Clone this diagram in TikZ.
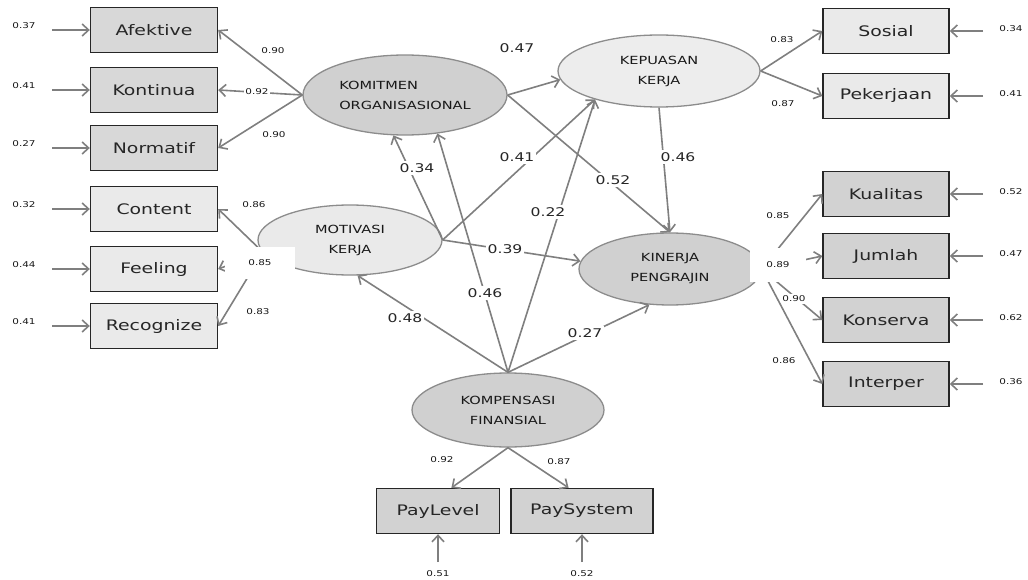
\documentclass[tikz,border=0pt]{standalone}
\usepackage{fontspec}
\newfontfamily\semfont{DejaVu Sans}[FakeStretch=1.3]
\usetikzlibrary{shapes.geometric,arrows.meta,positioning}
\definecolor{linkgray}{HTML}{7F7F7F}
\definecolor{boxmid}{HTML}{D8D8D8}
\definecolor{boxlight}{HTML}{EAEAEA}
\definecolor{boxdark}{HTML}{D2D2D2}
\definecolor{latdark}{HTML}{D0D0D0}
\definecolor{latlight}{HTML}{EDEDED}

\begin{document}
\begin{tikzpicture}[x=1pt, y=-1pt, font=\semfont,
  indicator/.style={rectangle, draw=black!85, line width=1.4pt, minimum height=45pt,
    font={\semfont\fontsize{14.5}{16}\selectfont}, text=black!85},
  latent/.style={ellipse, draw=black!45, line width=1.3pt, align=center, inner sep=0pt,
    font={\semfont\fontsize{11.2}{20}\selectfont}, text=black!90},
  link/.style={draw=linkgray, line width=1.6pt, -{Straight Barb[length=6.5pt,width=12pt]}},
  smallnum/.style={fill=white, inner sep=1.5pt, font={\semfont\fontsize{8}{9}\selectfont}, text=black!90},
  bignum/.style={fill=white, inner sep=2pt, font={\semfont\fontsize{12}{14}\selectfont}, text=black!85}]
  \useasboundingbox (0,0) rectangle (1028,580);

  % Latent variables
  \node[latent, fill=latdark, minimum width=204pt, minimum height=80pt, align=left] (komitmen) at (405,95) {KOMITMEN\\ORGANISASIONAL};
  \node[latent, fill=latlight, minimum width=202pt, minimum height=72pt] (kepuasan) at (659,71) {KEPUASAN\\KERJA};
  \node[latent, fill=boxlight, minimum width=184pt, minimum height=70pt] (motivasi) at (350,240) {MOTIVASI\\KERJA};
  \node[latent, fill=latdark, minimum width=182pt, minimum height=72pt] (kinerja) at (670,269) {KINERJA\\PENGRAJIN};
  \node[latent, fill=latdark, minimum width=192pt, minimum height=74pt] (kompensasi) at (508,410) {KOMPENSASI\\FINANSIAL};

  % Left indicators with error terms
  \foreach \name/\txt/\y/\err/\col in {afektive/Afektive/30/0.37/boxmid, kontinua/Kontinua/90/0.41/boxmid,
      normatif/Normatif/148/0.27/boxmid, content/Content/209/0.32/boxlight,
      feeling/Feeling/269/0.44/boxlight, recognize/Recognize/326/0.41/boxlight}
  {
    \node[indicator, fill=\col, minimum width=127pt] (\name) at (154,\y) {\txt};
    \coordinate (\name-e) at (52,\y);
    \draw[link] (\name-e) -- (\name);
    \node[smallnum] at (24,\y-4) {\err};
  }

  % Right indicators with error terms
  \foreach \name/\txt/\y/\err/\col in {sosial/Sosial/31/0.34/boxlight, pekerjaan/Pekerjaan/96/0.41/boxlight,
      kualitas/Kualitas/194/0.52/boxdark, jumlah/Jumlah/256/0.47/boxdark,
      konserva/Konserva/320/0.62/boxdark, interper/Interper/384/0.36/boxdark}
  {
    \node[indicator, fill=\col, minimum width=126pt] (\name) at (886,\y) {\txt};
    \coordinate (\name-e) at (983,\y);
    \draw[link] (\name-e) -- (\name);
    \node[smallnum] at (1011,\y-2) {\err};
  }

  % Bottom indicators with error terms
  \foreach \name/\txt/\x/\w/\err in {paylevel/PayLevel/438/123/0.51, paysystem/PaySystem/582/142/0.52}
  {
    \node[indicator, fill=boxdark, minimum width=\w pt] (\name) at (\x,511) {\txt};
    \coordinate (\name-e) at (\x,562);
    \draw[link] (\name-e) -- (\name);
    \node[smallnum] at (\x,574) {\err};
  }

  % Loadings
  \foreach \ind/\lab/\lx/\ly in {afektive/0.90/273/51, kontinua/0.92/257/92, normatif/0.90/274/135}
  {
    \draw[link] (komitmen.west) -- (\ind.east);
    \node[smallnum] at (\lx,\ly) {\lab};
  }
  \foreach \ind/\lab/\lx/\ly in {content/0.86/254/205, recognize/0.83/258/312}
  {
    \draw[link] (motivasi.188) -- (\ind.east);
    \node[smallnum] at (\lx,\ly) {\lab};
  }
  \draw[link] (motivasi.188) -- (feeling.east);
  \foreach \ind/\lab/\lx/\ly in {sosial/0.83/782/40, pekerjaan/0.87/783/104}
  {
    \draw[link] (kepuasan.east) -- (\ind.west);
    \node[smallnum] at (\lx,\ly) {\lab};
  }
  \foreach \ind/\lab/\lx/\ly in {kualitas/0.85/778/216, konserva/0.90/794/299, interper/0.86/784/361}
  {
    \draw[link] (kinerja.east) -- (\ind.west);
    \node[smallnum] at (\lx,\ly) {\lab};
  }
  \draw[link] (kinerja.east) -- (jumlah.west);
  \draw[link] (kompensasi.south) -- (paylevel.60);
  \draw[link] (kompensasi.south) -- (paysystem.120);
  \node[smallnum] at (442,460) {0.92};
  \node[smallnum] at (559,462) {0.87};

  % white label boxes over the ellipses
  \node[smallnum, minimum width=70pt, minimum height=32pt] at (260,263) {0.85};
  \node[smallnum, minimum width=56pt, minimum height=34pt] at (778,265) {0.89};

  % Structural paths
  \draw[link] (komitmen.east) -- (kepuasan.185);
  \draw[link] (komitmen.east) -- (kinerja.north);
  \draw[link] (kepuasan.south) -- (kinerja.north);
  \draw[link] (motivasi.east) -- (komitmen.254);
  \draw[link] (motivasi.east) -- (kepuasan.204);
  \draw[link] (motivasi.east) -- (kinerja.175);
  \draw[link] (kompensasi.north) -- (motivasi.282);
  \draw[link] (kompensasi.north) -- (komitmen.310);
  \draw[link] (kompensasi.north) -- (kepuasan.204);
  \draw[link] (kompensasi.north) -- (kinerja.240);

  \node[bignum] at (517,48) {0.47};
  \node[bignum] at (417,168) {0.34};
  \node[bignum] at (517,157) {0.41};
  \node[bignum] at (678,157) {0.46};
  \node[bignum] at (613,180) {0.52};
  \node[bignum] at (548,212) {0.22};
  \node[bignum] at (505,249) {0.39};
  \node[bignum] at (485,293) {0.46};
  \node[bignum] at (405,318) {0.48};
  \node[bignum] at (585,333) {0.27};
\end{tikzpicture}
\end{document}
